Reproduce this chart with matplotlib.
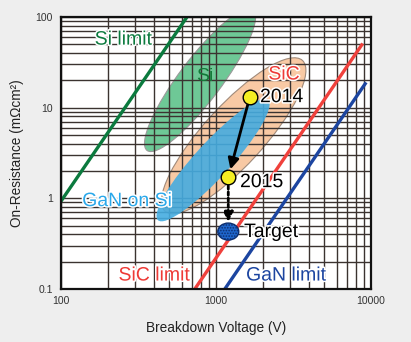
import matplotlib
matplotlib.use("Agg")
import matplotlib.pyplot as plt
import matplotlib.patheffects as pe
from matplotlib.patches import Ellipse
from matplotlib.transforms import ScaledTranslation
from matplotlib.ticker import LogLocator, NullFormatter, FixedLocator, FixedFormatter

plt.rcParams['font.family'] = ['Liberation Sans', 'DejaVu Sans']
plt.rcParams['hatch.color'] = '#6fb2f0'
plt.rcParams['hatch.linewidth'] = 0.8

# Theoretical material limits (end points: breakdown voltage V, on-resistance mOhm*cm^2)
si_limit_v = [100, 650]
si_limit_r = [0.93, 100]
sic_limit_v = [730, 8840]
sic_limit_r = [0.1, 51]
gan_limit_v = [1140, 9300]
gan_limit_r = [0.1, 19]

# Device regions (centre voltage, centre resistance)
region_names = ['Si', 'SiC', 'GaN on Si']
region_v = [789, 1300, 957]
region_r = [20.1, 4.9, 2.64]

# Roadmap points
year_labels = ['2014', '2015']
year_v = [1650, 1200]
year_r = [13, 1.7]
target_label = 'Target'
target_v = 1200
target_r = 0.43

x_ticks = [100, 1000, 10000]
x_tick_labels = ['100', '1000', '10000']
y_ticks = [0.1, 1, 10, 100]
y_tick_labels = ['0.1', '1', '10', '100']

W, H, DPI = 411, 342, 100
fig = plt.figure(figsize=(W / DPI, H / DPI), dpi=DPI, facecolor='#eeeeee')
ax = fig.add_axes([61 / W, 1 - 289 / H, 310 / W, 272 / H])
ax.set_xscale('log')
ax.set_yscale('log')
ax.set_xlim(100, 10000)
ax.set_ylim(0.1, 100)
ax.set_facecolor('white')

# grid: all decades and sub-decades
for axis in (ax.xaxis, ax.yaxis):
    axis.set_minor_locator(LogLocator(base=10, subs=range(2, 10)))
    axis.set_minor_formatter(NullFormatter())
ax.xaxis.set_major_locator(FixedLocator(x_ticks))
ax.xaxis.set_major_formatter(FixedFormatter(x_tick_labels))
ax.yaxis.set_major_locator(FixedLocator(y_ticks))
ax.yaxis.set_major_formatter(FixedFormatter(y_tick_labels))
ax.grid(True, which='both', color='#3b3330', linewidth=1.0)
ax.set_axisbelow('line')
ax.tick_params(which='both', length=0)
ax.tick_params(axis='x', pad=5, labelsize=7.5, labelcolor='#333333')
ax.tick_params(axis='y', pad=6, labelsize=7.5, labelcolor='#333333')
for s in ax.spines.values():
    s.set_linewidth(1.6)
    s.set_color('#111111')

ax.set_xlabel('Breakdown Voltage (V)', fontsize=9.8, color='#222222', labelpad=11)
ax.set_ylabel('On-Resistance (m\u03a9cm\u00b2)', fontsize=9.8, color='#222222', labelpad=8)


def blob(v, r, length_px, width_px, angle, **kw):
    trans = fig.dpi_scale_trans + ScaledTranslation(v, r, ax.transData)
    e = Ellipse((0, 0), length_px / DPI, width_px / DPI, angle=angle,
                transform=trans, **kw)
    ax.add_patch(e)
    return e


region_styles = [
    dict(length_px=176, width_px=42, angle=53, facecolor='#6ec896',
         edgecolor='#9a9a9a', linewidth=0.8, zorder=1),
    dict(length_px=204, width_px=60, angle=47.6, facecolor='#f8c9a4',
         edgecolor='#a08a7a', linewidth=0.8, zorder=1),
    dict(length_px=163, width_px=35, angle=47.5, facecolor='#45ace0',
         edgecolor='none', alpha=0.9, zorder=1.6),
]
for v, r, st in zip(region_v, region_r, region_styles):
    blob(v, r, **st)

# limit lines
ax.plot(si_limit_v, si_limit_r, color='#0b7a3e', lw=2.4, solid_capstyle='butt', zorder=2)
ax.plot(sic_limit_v, sic_limit_r, color='#f0413c', lw=2.4, solid_capstyle='butt', zorder=2)
ax.plot(gan_limit_v, gan_limit_r, color='#1c45a0', lw=2.4, solid_capstyle='butt', zorder=2)

halo = [pe.withStroke(linewidth=2.2, foreground='white')]
fs = 14

ax.text(165, 55.6, 'Si limit', color='#0b7a3e', fontsize=fs, ha='left', va='center',
        path_effects=halo, zorder=5)
ax.text(849, 22.3, region_names[0], color='#137a38', fontsize=fs, ha='center', va='center',
        zorder=5)
ax.text(2748, 22.9, region_names[1], color='#ee3a36', fontsize=fs, ha='center', va='center',
        path_effects=halo, zorder=5)
ax.text(137, 0.92, region_names[2], color='#2aa8ea', fontsize=fs, ha='left', va='center',
        path_effects=halo, zorder=5)
ax.text(235, 0.139, 'SiC limit', color='#ee3a36', fontsize=fs, ha='left', va='center',
        path_effects=halo, zorder=5)
ax.text(1563, 0.139, 'GaN limit', color='#1c45a0', fontsize=fs, ha='left', va='center',
        path_effects=halo, zorder=5)

# roadmap arrows
ax.annotate('', xy=(year_v[1], year_r[1]), xytext=(year_v[0], year_r[0]),
            arrowprops=dict(arrowstyle='-|>', color='black', lw=2.0, mutation_scale=16,
                            shrinkA=5, shrinkB=6), zorder=6)
ax.annotate('', xy=(target_v, target_r), xytext=(year_v[1], year_r[1]),
            arrowprops=dict(arrowstyle='-|>', color='black', lw=2.0, mutation_scale=14,
                            linestyle=(0, (1.2, 1)), shrinkA=6, shrinkB=7), zorder=6)

# roadmap points
ax.plot(year_v, year_r, 'o', markersize=10.5, markerfacecolor='#f5ee22',
        markeredgecolor='black', markeredgewidth=1.0, zorder=7)
blob(target_v, target_r, 21, 17, 0, facecolor='#1f66cc', edgecolor='#0d2f70',
     linewidth=1.0, hatch='......', zorder=7)

ax.text(1923, 12.9, year_labels[0], color='black', fontsize=fs, ha='left', va='center',
        path_effects=halo, zorder=8)
ax.text(1429, 1.49, year_labels[1], color='black', fontsize=fs, ha='left', va='center',
        path_effects=halo, zorder=8)
ax.text(1517, 0.42, target_label, color='black', fontsize=fs, ha='left', va='center',
        path_effects=halo, zorder=8)

fig.savefig('out.png', dpi=DPI, facecolor=fig.get_facecolor())
